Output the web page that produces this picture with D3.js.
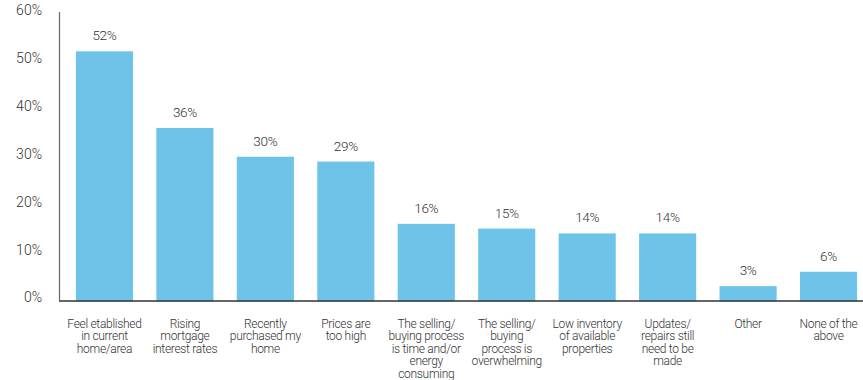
<!DOCTYPE html>
<html>
<head>
<meta charset="utf-8">
<script src="https://cdn.jsdelivr.net/npm/d3@7"></script>
<style>
  html, body { margin: 0; padding: 0; background: #fff; }
  svg { display: block; font-family: Roboto, "Liberation Sans", sans-serif; font-weight: 300; }
</style>
</head>
<body>
<svg id="chart" width="863" height="380"></svg>
<script>
// Reasons for staying put, share of respondents
const categories = [
  ["Feel etablished", "in current", "home/area"],
  ["Rising", "mortgage", "interest rates"],
  ["Recently", "purchased my", "home"],
  ["Prices are", "too high"],
  ["The selling/", "buying process", "is time and/or", "energy", "consuming"],
  ["The selling/", "buying", "process is", "overwhelming"],
  ["Low inventory", "of available", "properties"],
  ["Updates/", "repairs still", "need to be", "made"],
  ["Other"],
  ["None of the", "above"]
];
const values = [52, 36, 30, 29, 16, 15, 14, 14, 3, 6];
const yTicks = [0, 10, 20, 30, 40, 50, 60];

const svg = d3.select("#chart");
const W = 863;

const keys = categories.map((c, i) => i);
const x = d3.scaleBand()
  .domain(keys)
  .range([59, 874])
  .paddingInner(0.29)
  .paddingOuter(0.21);

const y = d3.scaleLinear()
  .domain([0, 60])
  .range([300.5, 13]);

// Y axis: vertical rule plus percentage labels
svg.append("line")
  .attr("x1", 59.5).attr("x2", 59.5)
  .attr("y1", y(60) - 1).attr("y2", y(0))
  .attr("stroke", "#666").attr("stroke-width", 1.2);

const yAxis = d3.axisLeft(y)
  .tickValues(yTicks)
  .tickSize(0)
  .tickPadding(0)
  .tickFormat(d => d + "%");

const gy = svg.append("g")
  .attr("transform", "translate(42,0)")
  .call(yAxis);
gy.select(".domain").remove();
gy.selectAll("text")
  .attr("font-size", 14)
  .attr("fill", "#333")
  .attr("dy", "0.32em")
  .attr("y", -3)
  .attr("font-family", "Roboto, sans-serif")
  .attr("font-weight", 300);

// Bars
svg.append("g").selectAll("rect")
  .data(values)
  .join("rect")
  .attr("x", (d, i) => x(i))
  .attr("width", x.bandwidth())
  .attr("y", d => y(d))
  .attr("height", d => y(0) - y(d) + 1)
  .attr("fill", "#6EC4E8");

// Value labels above bars
svg.append("g").selectAll("text")
  .data(values)
  .join("text")
  .attr("x", (d, i) => x(i) + x.bandwidth() / 2)
  .attr("y", d => y(d) - 11)
  .attr("text-anchor", "middle")
  .attr("font-size", 13.5)
  .attr("fill", "#333")
  .attr("letter-spacing", "-0.3")
  .text(d => d + "%");

// Baseline
svg.append("line")
  .attr("x1", 59).attr("x2", W)
  .attr("y1", y(0) + 0.5).attr("y2", y(0) + 0.5)
  .attr("stroke", "#333").attr("stroke-width", 1.5);

// Category labels, wrapped onto fixed lines
const labels = svg.append("g").selectAll("text")
  .data(categories)
  .join("text")
  .attr("x", (d, i) => x(i) + x.bandwidth() / 2)
  .attr("y", 328)
  .attr("text-anchor", "middle")
  .attr("font-size", 12)
  .attr("fill", "#333")
  .attr("letter-spacing", "-0.3");

labels.each(function(lines, i) {
  const t = d3.select(this);
  lines.forEach((ln, k) => {
    t.append("tspan")
      .attr("x", x(i) + x.bandwidth() / 2)
      .attr("dy", k === 0 ? 0 : 12.4)
      .text(ln);
  });
});
</script>
</body>
</html>
